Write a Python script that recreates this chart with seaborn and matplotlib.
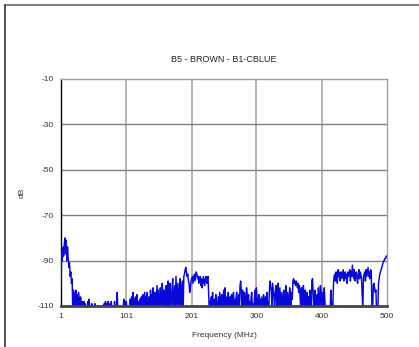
import numpy as np
import pandas as pd
import matplotlib
matplotlib.use("Agg")
import matplotlib.pyplot as plt
from matplotlib.lines import Line2D
import seaborn as sns

# frequency grid (MHz), one reading per MHz
freq = list(range(1, 501))

# dB readings, 20 MHz per row (values at -112 sit below the floor and get clipped at -110)
db = [
    -102, -86, -90, -84, -88, -83, -80, -87, -81, -90, -84, -89, -93, -91, -97, -95, -100, -98, -112, -103,
    -112, -104, -112, -103, -112, -105, -112, -104, -108, -112, -106, -112, -108, -112, -112, -108, -112, -109, -112, -112,
    -112, -108, -112, -107, -112, -112, -112, -109, -112, -112, -112, -112, -109, -112, -112, -112, -112, -112, -112, -112,
    -112, -112, -112, -112, -112, -112, -109, -112, -108, -112, -109, -112, -108, -112, -112, -109, -112, -108, -112, -112,
    -112, -112, -108, -112, -110, -112, -104, -112, -112, -112, -112, -112, -112, -112, -112, -112, -107, -112, -108, -112,
    -108, -112, -112, -112, -112, -112, -107, -112, -106, -112, -104, -112, -107, -112, -106, -112, -105, -112, -108, -112,
    -112, -107, -112, -106, -112, -105, -112, -108, -104, -112, -106, -112, -104, -112, -107, -106, -112, -103, -112, -105,
    -112, -102, -108, -112, -104, -112, -106, -101, -112, -103, -108, -112, -102, -106, -112, -100, -105, -112, -103, -107,
    -112, -101, -106, -112, -99, -104, -112, -100, -108, -112, -102, -98, -112, -106, -101, -112, -97, -104, -112, -100,
    -106, -112, -98, -103, -112, -101, -99, -112, -97, -96, -94, -93, -95, -97, -96, -99, -100, -104, -102, -99,
    -98, -97, -100, -98, -96, -99, -97, -95, -96, -98, -97, -100, -99, -97, -101, -98, -102, -100, -97, -99,
    -101, -98, -97, -100, -98, -97, -105, -112, -108, -112, -106, -112, -104, -109, -112, -107, -112, -105, -112, -108,
    -112, -106, -112, -104, -108, -112, -105, -112, -107, -103, -112, -102, -108, -112, -106, -112, -104, -109, -112, -106,
    -112, -105, -108, -112, -104, -112, -107, -112, -106, -104, -112, -108, -105, -112, -101, -99, -104, -112, -103, -107,
    -112, -104, -108, -112, -102, -106, -112, -105, -112, -108, -112, -106, -104, -112, -109, -112, -107, -103, -112, -102,
    -106, -112, -108, -105, -112, -107, -112, -106, -109, -112, -105, -112, -108, -106, -112, -104, -112, -108, -112, -103,
    -99, -101, -104, -112, -100, -103, -106, -112, -104, -101, -108, -112, -100, -105, -112, -102, -107, -112, -104, -108,
    -112, -103, -107, -112, -101, -106, -112, -104, -108, -112, -102, -106, -112, -104, -107, -99, -98, -100, -99, -101,
    -99, -100, -102, -100, -104, -101, -106, -112, -102, -105, -112, -101, -106, -112, -103, -108, -112, -104, -112, -106,
    -112, -103, -108, -112, -99, -98, -104, -112, -106, -103, -112, -108, -105, -112, -102, -108, -112, -101, -103, -112,
    -112, -104, -112, -102, -108, -112, -112, -112, -112, -112, -112, -112, -112, -103, -112, -108, -112, -101, -97, -96,
    -99, -95, -97, -100, -94, -97, -95, -99, -96, -95, -98, -96, -94, -99, -96, -95, -98, -96, -100, -95,
    -97, -96, -94, -99, -95, -97, -92, -95, -98, -94, -99, -96, -95, -98, -100, -96, -94, -98, -95, -96,
    -98, -105, -112, -97, -96, -95, -99, -94, -97, -95, -93, -97, -95, -98, -94, -96, -112, -112, -101, -100,
    -102, -104, -103, -112, -112, -112, -100, -98, -96, -95, -94, -93, -92, -91, -90, -90, -89, -89, -88, -88,
]

xticks = [1, 101, 201, 300, 400, 500]
yticks = [-10, -30, -50, -70, -90, -110]

df = pd.DataFrame({"freq": freq, "db": db})

sns.set_style("white")
plt.rcParams["font.family"] = ["Liberation Sans", "DejaVu Sans"]

fig = plt.figure(figsize=(4.19, 3.47), dpi=100)
ax = fig.add_axes([0.1456, 0.1182, 0.778, 0.6542])

# grid first so the trace sits on top
for x in xticks[1:-1]:
    ax.axvline(x, color="#b0b0b0", lw=1.3, zorder=1)
for y in yticks[1:-1]:
    ax.axhline(y, color="#808080", lw=1.0, zorder=1)

sns.lineplot(data=df, x="freq", y="db", ax=ax, color="#0808d8", lw=1.05,
             zorder=3, legend=False)

ax.set_xlim(1, 500)
ax.set_ylim(-110, -10)
ax.set_xticks(xticks)
ax.set_yticks(yticks)
ax.set_xticklabels([str(v) for v in xticks], fontsize=6, color="#333333")
ax.set_yticklabels([str(v) for v in yticks], fontsize=6, color="#333333")
ax.tick_params(axis="both", direction="inout", length=6, width=1,
               color="black", pad=2)

ax.spines["left"].set_color("black")
ax.spines["left"].set_linewidth(1.0)
ax.spines["bottom"].set_color("#444444")
ax.spines["bottom"].set_linewidth(2.0)
ax.spines["bottom"].set_zorder(4)
for s in ["top", "right"]:
    ax.spines[s].set_color("#a0a0a0")
    ax.spines[s].set_linewidth(1.0)

ax.set_title("B5 - BROWN - B1-CBLUE", fontsize=6.5, pad=12, color="#222222")
ax.set_xlabel("Frequency (MHz)", fontsize=6, labelpad=9, color="#333333")
ax.set_ylabel("dB", fontsize=6, color="#333333")
ax.yaxis.set_label_coords(-0.11, 0.5)

# outer page frame
fig.add_artist(Line2D([5 / 419, 1], [1 - 5 / 347] * 2, transform=fig.transFigure,
                      color="#808080", lw=1.5))
fig.add_artist(Line2D([5 / 419] * 2, [0, 1 - 5 / 347], transform=fig.transFigure,
                      color="#333333", lw=1.2))

fig.savefig("out.png", dpi=100)
